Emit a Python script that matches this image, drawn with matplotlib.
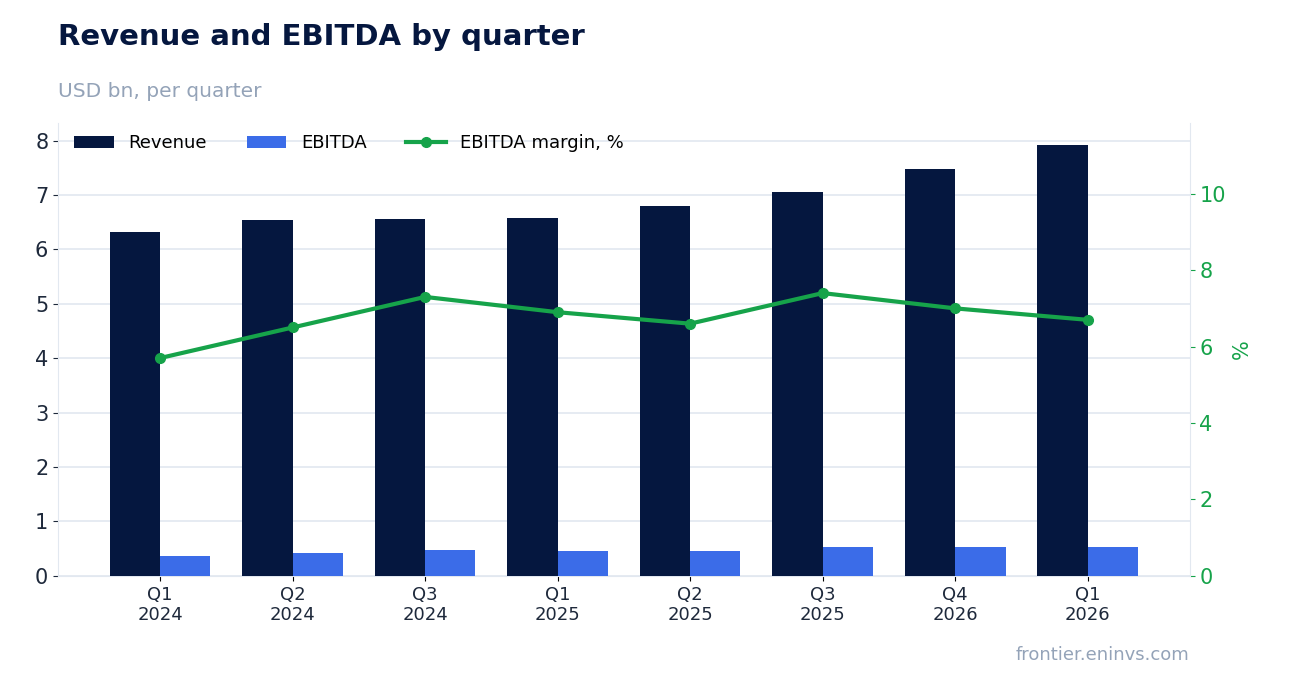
import matplotlib
matplotlib.use("Agg")
import matplotlib.pyplot as plt
import numpy as np

quarters = ["Q1\n2024", "Q2\n2024", "Q3\n2024", "Q1\n2025", "Q2\n2025", "Q3\n2025", "Q4\n2026", "Q1\n2026"]
revenue = [6.32, 6.54, 6.56, 6.58, 6.80, 7.06, 7.48, 7.92]
ebitda = [0.36, 0.42, 0.47, 0.46, 0.45, 0.53, 0.53, 0.53]
margin = [5.7, 6.5, 7.3, 6.9, 6.6, 7.4, 7.0, 6.7]

navy = "#05173f"; blue = "#3b6ce8"; green = "#16a34a"; grey = "#94a3b8"
fig = plt.figure(figsize=(12.89, 6.93), dpi=100)
ax = fig.add_axes([0.045, 0.169, 0.878, 0.654])
x = np.arange(len(quarters))
w = 0.38
ax.bar(x - w/2, revenue, w, color=navy, label="Revenue", zorder=3)
ax.bar(x + w/2, ebitda, w, color=blue, label="EBITDA", zorder=3)
ax.set_ylim(0, 8.33)
ax.set_xlim(-0.77, 7.77)
ax.set_xticks(x)
ax.set_xticklabels(quarters, fontsize=13, color="#1e293b")
ax.tick_params(axis="y", labelsize=15, colors="#1e293b")
ax.grid(axis="y", color="#e2e8f0", lw=1.2, zorder=0)
for s in ["top", "right"]:
    ax.spines[s].set_visible(False)
ax.spines["left"].set_color("#e2e8f0")
ax.spines["bottom"].set_color("#e2e8f0")

ax2 = ax.twinx()
ax2.plot(x, margin, color=green, lw=3, marker="o", ms=7, label="EBITDA margin, %", zorder=4)
ax2.set_ylim(0, 11.86)
ax2.set_yticks([0, 2, 4, 6, 8, 10])
ax2.tick_params(axis="y", labelsize=15, colors=green)
ax2.set_ylabel("%", color=green, fontsize=15)
for s in ["top", "left", "bottom"]:
    ax2.spines[s].set_visible(False)
ax2.spines["right"].set_color("#e2e8f0")

h1, l1 = ax.get_legend_handles_labels()
h2, l2 = ax2.get_legend_handles_labels()
ax.legend(h1 + h2, l1 + l2, loc="upper left", ncol=3, frameon=False, fontsize=13,
          bbox_to_anchor=(0.0, 1.01), handlelength=2.2, columnspacing=2.2)

fig.text(0.045, 0.935, "Revenue and EBITDA by quarter", fontsize=21, fontweight="bold", color=navy)
fig.text(0.045, 0.86, "USD bn, per quarter", fontsize=14.5, color=grey)
fig.text(0.923, 0.048, "frontier.eninvs.com", fontsize=13, color=grey, ha="right")
fig.savefig("out.png", dpi=100)
